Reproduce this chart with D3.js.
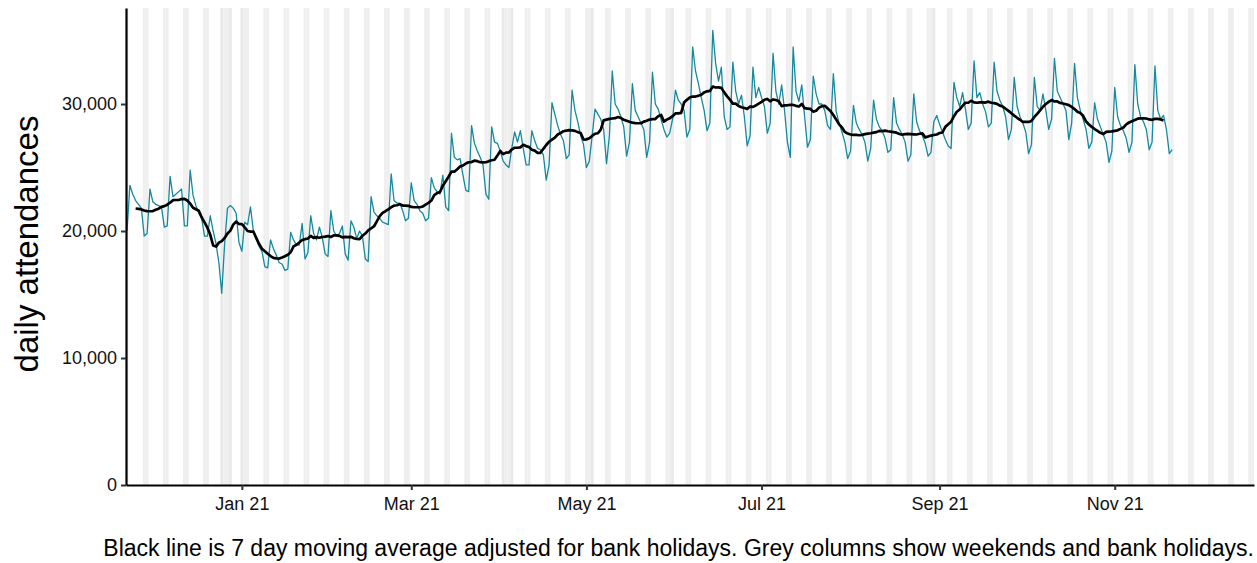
<!DOCTYPE html>
<html><head><meta charset="utf-8">
<script src="https://cdn.jsdelivr.net/npm/d3@7"></script>
<style>body{margin:0;background:#fff;} svg text{font-family:"Liberation Sans",Arial,sans-serif;}</style>
</head><body><svg id="chart" width="1257" height="563"></svg>
<script>
// ---- data ----
const startDate = "2020-11-22"; // first day of the daily series
const dailyAttendances = [
20000,
23600,22900,22400,22100,21800,19600,19800,
23300,22300,22100,22000,21900,20300,20400,
24300,22700,22900,23100,23300,20400,20400,
24800,22800,22000,21400,21000,19600,19600,
21200,20000,19000,17500,15100,19000,21800,
22000,21800,21400,19100,18400,20700,20500,
21900,20000,19400,18800,18400,17200,17100,
19300,18600,18100,17500,17400,16900,17000,
19900,19300,18900,18900,20600,17800,18300,
21200,19800,19300,20300,19500,18200,18000,
21600,20000,19600,19800,20400,18200,17700,
20800,20300,19400,20000,19600,17800,17600,
22700,21500,21200,21000,20700,20600,20500,
24500,22400,22200,22200,21600,20800,21000,
23800,22400,22100,21600,21400,20800,21000,
24200,23400,23100,22900,24400,21900,21600,
27700,25800,25600,25700,24400,23200,23100,
28300,26900,26300,25800,25200,22900,22500,
28200,27000,26900,26300,25500,25200,25000,
26500,27800,27000,27900,26500,25200,25200,
27900,27100,26500,26400,26000,24000,25200,
30100,29200,28300,27600,27100,25700,26000,
31100,29500,28600,27500,26800,25000,25500,
27500,29600,29200,28800,28000,25300,27500,
32600,30000,29600,29000,28200,25900,27000,
31600,29500,29000,28500,28000,25800,27000,
32500,30000,29600,28800,28000,27400,27700,
28800,31100,30300,30000,29500,27400,28000,
34500,32600,31600,30500,29500,27900,28500,
35800,33200,31800,32900,29000,28000,28200,
33300,31000,30000,30700,29000,26700,27500,
32900,30500,31300,30500,29800,27700,28500,
34000,31000,30000,31500,29500,27000,25800,
34500,31000,30200,31500,29000,26600,27200,
32200,30800,30000,30000,29500,28300,28000,
32400,29400,28500,27800,27000,25700,26300,
29900,28500,28000,27600,27000,25500,26500,
30300,28800,28200,27900,27300,26200,26400,
30500,28500,28000,27600,27000,25500,26000,
30800,28600,27900,27500,26900,25900,26200,
28600,29100,28400,27800,27200,26700,26500,
31700,30500,29800,30900,29600,28000,28500,
33400,30500,30900,30000,29400,28200,28500,
33300,31000,30300,29800,29000,27200,28000,
32100,29800,29000,28500,27800,26100,26800,
32100,29800,29500,30800,29500,28000,28800,
33600,31000,30500,30000,29500,27200,28500,
33200,30500,29500,28800,28000,26500,27000,
30100,28800,28200,27600,27000,25400,26300,
31300,29000,28300,27900,27300,26200,27000,
33100,30000,29000,28600,28000,26400,27000,
33000,29500,28800,29100,28000,26100,26400
];
const bankHolidays = ["2020-12-25","2020-12-28","2021-01-01","2021-04-02","2021-04-05","2021-05-03","2021-05-31","2021-08-30"];
const shadeEndDate = "2021-12-19";
const xTickDates = ["2021-01-01","2021-03-01","2021-05-01","2021-07-01","2021-09-01","2021-11-01"];
const xTickLabels = ["Jan 21","Mar 21","May 21","Jul 21","Sep 21","Nov 21"];
const yTickValues = [0,10000,20000,30000];
const yMax = 37560;
const yTitle = "daily attendances";
const captionText = "Black line is 7 day moving average adjusted for bank holidays. Grey columns show weekends and bank holidays.";

// ---- build ----
const parse = d3.utcParse("%Y-%m-%d");
const DAY = 864e5;
const t0 = parse(startDate);
const series = dailyAttendances.map((v, i) => ({date: new Date(+t0 + i * DAY), value: v}));
const movingAvg = [];
for (let i = 3; i < series.length - 3; i++) {
  movingAvg.push({date: series[i].date, value: d3.mean(series.slice(i - 3, i + 4), d => d.value)});
}
const bhSet = new Set(bankHolidays);
const fmtDay = d3.utcFormat("%Y-%m-%d");

const L = 126, R = 1254, T = 8, B = 485;
const x = d3.scaleUtc()
  .domain([new Date(+t0 - 0.35 * DAY), new Date(+parse(shadeEndDate) + DAY / 2)])
  .range([L, R]);
const y = d3.scaleLinear().domain([0, yMax]).range([B, T]);

const svg = d3.select("#chart");
svg.append("rect").attr("width", 1257).attr("height", 563).attr("fill", "#fff");
svg.append("defs").append("clipPath").attr("id", "clip")
  .append("rect").attr("x", L).attr("y", T).attr("width", R - L).attr("height", B - T);

const plot = svg.append("g").attr("clip-path", "url(#clip)");

const shadeDays = d3.utcDay.range(t0, new Date(+parse(shadeEndDate) + DAY))
  .filter(d => d.getUTCDay() === 0 || d.getUTCDay() === 6 || bhSet.has(fmtDay(d)));
plot.append("g").selectAll("rect").data(shadeDays).join("rect")
  .attr("x", d => x(new Date(+d - DAY / 2)))
  .attr("width", d => x(new Date(+d + DAY / 2)) - x(new Date(+d - DAY / 2)))
  .attr("y", T).attr("height", B - T)
  .attr("fill", d => bhSet.has(fmtDay(d)) ? "#e9e9e9" : "#efefef");

const line = d3.line().x(d => x(d.date)).y(d => y(d.value));
plot.append("path").datum(series).attr("d", line)
  .attr("fill", "none").attr("stroke", "#15899d").attr("stroke-width", 1.3).attr("stroke-linejoin", "round");
plot.append("path").datum(movingAvg).attr("d", line)
  .attr("fill", "none").attr("stroke", "#000").attr("stroke-width", 2.7).attr("stroke-linejoin", "round");

// axes
const yAxis = d3.axisLeft(y).tickValues(yTickValues).tickFormat(d3.format(",")).tickSize(5).tickSizeOuter(0).tickPadding(4);
const gy = svg.append("g").attr("transform", `translate(${L},0)`).call(yAxis);
const xAxis = d3.axisBottom(x).tickValues(xTickDates.map(parse))
  .tickFormat((d, i) => xTickLabels[i]).tickSize(5).tickSizeOuter(0).tickPadding(7);
const gx = svg.append("g").attr("transform", `translate(0,${B})`).call(xAxis);

[gx, gy].forEach(g => {
  g.select(".domain").attr("stroke", "#000").attr("stroke-width", 2.2);
  g.selectAll(".tick line").attr("stroke", "#333").attr("stroke-width", 2);
  g.selectAll(".tick text").attr("fill", "#111").style("font-size", "18px")
    .style("font-family", '"Liberation Sans", Arial, sans-serif');
});

svg.append("text")
  .attr("transform", `translate(38,244) rotate(-90)`)
  .attr("text-anchor", "middle").attr("fill", "#000")
  .style("font-size", "33px").text(yTitle);

svg.append("text")
  .attr("x", R).attr("y", 556).attr("text-anchor", "end").attr("fill", "#000")
  .style("font-size", "23px").text(captionText);
</script></body></html>
